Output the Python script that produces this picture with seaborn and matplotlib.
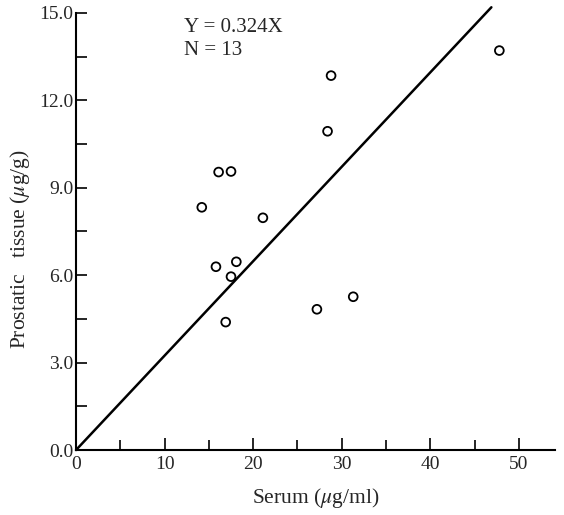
import numpy as np
import pandas as pd
import matplotlib
matplotlib.use('Agg')
import matplotlib.pyplot as plt
import seaborn as sns

# serum vs prostatic tissue concentrations
serum = [14.2, 16.1, 17.5, 21.1, 15.8, 18.1, 17.5, 16.9, 27.2, 31.3, 28.8, 28.4, 47.8]
tissue = [8.33, 9.54, 9.56, 7.97, 6.29, 6.46, 5.95, 4.39, 4.83, 5.26, 12.85, 10.94, 13.71]
slope = 0.324
line_x = [0, 46.9]
line_y = [slope * v for v in line_x]

x_ticks = [0, 10, 20, 30, 40, 50]
x_minor = [5, 15, 25, 35, 45]
y_ticks = [0.0, 3.0, 6.0, 9.0, 12.0, 15.0]
y_minor = [1.5, 4.5, 7.5, 10.5, 13.5]

sns.set_style('ticks')
plt.rcParams['font.family'] = ['Liberation Serif', 'DejaVu Serif']
plt.rcParams['mathtext.fontset'] = 'stix'

df = pd.DataFrame({'serum': serum, 'tissue': tissue})

fig = plt.figure(figsize=(5.64, 5.15), dpi=100)
ax = fig.add_axes([0.1348, 0.1262, 0.8495, 0.8486])

sns.lineplot(x=line_x, y=line_y, ax=ax, color='black', linewidth=1.8)
ax.lines[0].set_clip_on(False)
sns.scatterplot(data=df, x='serum', y='tissue', ax=ax, marker='o', s=40,
                facecolor='none', edgecolor='black', linewidth=1.3, zorder=3)

ax.set_xlim(0, 54.1)
ax.set_ylim(0, 15)
ax.set_xticks(x_ticks)
ax.set_xticks(x_minor, minor=True)
ax.set_yticks(y_ticks)
ax.set_yticks(y_minor, minor=True)
ax.set_yticklabels([f'{v:.1f}' for v in y_ticks])
ax.tick_params(axis='both', which='both', direction='in', labelsize=14,
               color='black', width=1.2)
ax.tick_params(axis='x', which='major', length=9, pad=4)
ax.tick_params(axis='x', which='minor', length=7)
ax.tick_params(axis='y', which='both', length=8, pad=2)

for side in ['top', 'right']:
    ax.spines[side].set_visible(False)
for side in ['left', 'bottom']:
    ax.spines[side].set_linewidth(1.5)
    ax.spines[side].set_color('black')

ax.set_xlabel(r'Serum ($\mu$g/ml)', fontsize=15.5, labelpad=10)
ax.set_ylabel(r'Prostatic   tissue ($\mu$g/g)', fontsize=15.5)
ax.yaxis.set_label_coords(-0.092, 0.46)

ax.text(0.226, 0.967, 'Y = 0.324X', transform=ax.transAxes, fontsize=15,
        va='center', ha='left')
ax.text(0.226, 0.915, 'N = 13', transform=ax.transAxes, fontsize=15,
        va='center', ha='left')

plt.savefig('out.png', dpi=100)
plt.close()
